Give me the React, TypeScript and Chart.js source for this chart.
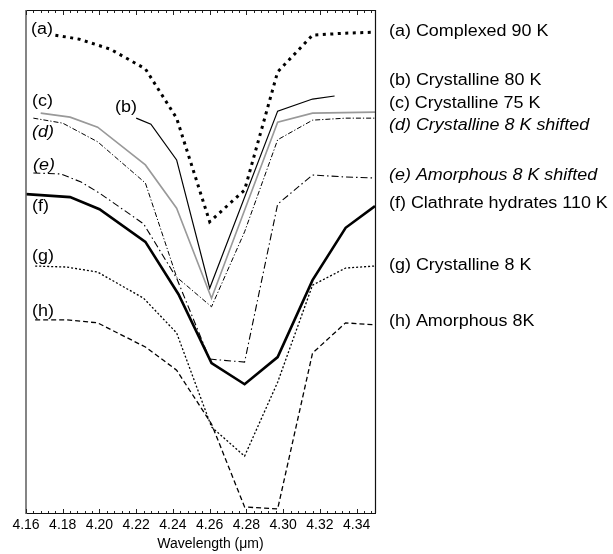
import React, { useEffect, useRef } from 'react';
import { Chart, registerables } from 'chart.js';

Chart.register(...registerables);

// ---- data (wavelength in µm, relative transmittance with offsets, a.u.) ----
const X_TICKS = [4.16, 4.18, 4.2, 4.22, 4.24, 4.26, 4.28, 4.3, 4.32, 4.34];
const X_TITLE = 'Wavelength (μm)';

const wlA = [4.176, 4.189, 4.206, 4.225, 4.242, 4.26, 4.279, 4.297, 4.316, 4.334, 4.35];
const tA = [0.95, 0.942, 0.922, 0.883, 0.785, 0.579, 0.642, 0.877, 0.95, 0.954, 0.956];

const wlB = [4.22, 4.228, 4.242, 4.26, 4.297, 4.316, 4.328];
const tB = [0.785, 0.773, 0.702, 0.447, 0.799, 0.823, 0.829];

const wlC = [4.168, 4.184, 4.199, 4.225, 4.242, 4.261, 4.297, 4.316, 4.35];
const tC = [0.795, 0.787, 0.767, 0.692, 0.606, 0.427, 0.777, 0.795, 0.797];

const wlD = [4.164, 4.18, 4.199, 4.225, 4.242, 4.261, 4.279, 4.297, 4.316, 4.334, 4.35];
const tD = [0.785, 0.775, 0.738, 0.656, 0.469, 0.41, 0.559, 0.742, 0.781, 0.785, 0.785];

const wlE = [4.164, 4.179, 4.19, 4.2, 4.224, 4.242, 4.26, 4.279, 4.297, 4.316, 4.334, 4.35];
const tE = [0.676, 0.674, 0.658, 0.636, 0.575, 0.467, 0.306, 0.3, 0.614, 0.672, 0.668, 0.666];

const wlF = [4.16, 4.184, 4.2, 4.225, 4.243, 4.261, 4.279, 4.297, 4.316, 4.334, 4.35];
const tF = [0.634, 0.628, 0.604, 0.539, 0.435, 0.298, 0.256, 0.31, 0.463, 0.567, 0.61];

const wlG = [4.165, 4.182, 4.199, 4.224, 4.242, 4.261, 4.279, 4.297, 4.316, 4.334, 4.35];
const tG = [0.491, 0.489, 0.479, 0.427, 0.358, 0.171, 0.113, 0.26, 0.453, 0.487, 0.491];

const wlH = [4.165, 4.182, 4.199, 4.225, 4.242, 4.261, 4.279, 4.297, 4.316, 4.334, 4.35];
const tH = [0.384, 0.384, 0.378, 0.33, 0.284, 0.177, 0.012, 0.008, 0.318, 0.378, 0.374];

const SERIES_NAMES = [
  '(a) Complexed 90 K',
  '(b) Crystalline 80 K',
  '(c) Crystalline 75 K',
  '(d) Crystalline 8 K shifted',
  '(e) Amorphous 8 K shifted',
  '(f) Clathrate hydrates 110 K',
  '(g) Crystalline 8 K',
  '(h) Amorphous 8K',
];
const CURVE_TAGS = ['(a)', '(b)', '(c)', '(d)', '(e)', '(f)', '(g)', '(h)'];
const ITALIC = [false, false, false, true, true, false, false, false];

// ---- layout / style (not data) ----
const FONT = '"Liberation Sans", Arial, sans-serif';
const TEXT_SIZE = 16;
const TEXT_STRETCH = 1.12;
const LEGEND_X = 389;
const LEGEND_Y = [32, 81, 104, 126, 176, 204, 266, 322];
// tag anchors in data space [wavelength, value]
const TAG_POS: [number, number][] = [
  [4.1627, 0.962],
  [4.2085, 0.805],
  [4.1633, 0.817],
  [4.1633, 0.757],
  [4.1638, 0.69],
  [4.1633, 0.61],
  [4.1633, 0.509],
  [4.1633, 0.4],
];

const pts = (xs: number[], ys: number[]) => xs.map((x, i) => ({ x, y: ys[i] }));

const frameAndText = {
  id: 'frameAndText',
  afterDraw(chart: any) {
    const { ctx, chartArea } = chart;
    const xs = chart.scales.x;
    const ys = chart.scales.y;
    const { left, right, top, bottom } = chartArea;
    ctx.save();
    // frame
    ctx.strokeStyle = '#111';
    ctx.lineWidth = 1.2;
    ctx.beginPath();
    ctx.moveTo(left, Math.round(top) + 0.5);
    ctx.lineTo(right + 1, Math.round(top) + 0.5);
    ctx.moveTo(Math.round(right) + 0.5, top);
    ctx.lineTo(Math.round(right) + 0.5, bottom);
    ctx.moveTo(left, Math.round(bottom) + 0.5);
    ctx.lineTo(right + 1, Math.round(bottom) + 0.5);
    ctx.stroke();
    ctx.strokeStyle = '#666';
    ctx.lineWidth = 1.6;
    ctx.beginPath();
    ctx.moveTo(left, top);
    ctx.lineTo(left, bottom + 1);
    ctx.stroke();
    // inward ticks (major every 0.02, minor every 0.004)
    ctx.strokeStyle = '#222';
    ctx.lineWidth = 1;
    ctx.beginPath();
    for (let i = 0; i <= 48; i++) {
      const v = 4.16 + i * 0.004;
      if (v > 4.3501) break;
      const px = Math.round(xs.getPixelForValue(v)) + 0.5;
      const len = i % 5 === 0 ? 4 : 2;
      ctx.moveTo(px, Math.round(bottom));
      ctx.lineTo(px, Math.round(bottom) - len);
      ctx.moveTo(px, Math.round(top) + 1);
      ctx.lineTo(px, Math.round(top) + 1 + len);
    }
    ctx.stroke();
    // axis title (sits slightly right of centre, as in the original)
    ctx.fillStyle = '#000';
    ctx.textAlign = 'center';
    ctx.textBaseline = 'middle';
    ctx.font = `14px ${FONT}`;
    ctx.fillText(X_TITLE, (left + right) / 2 + 10, bottom + 31);
    // texts
    ctx.textAlign = 'left';
    const draw = (t: string, x: number, y: number, it: boolean) => {
      ctx.save();
      ctx.translate(x, y);
      ctx.scale(TEXT_STRETCH, 1);
      ctx.font = `${it ? 'italic ' : ''}${TEXT_SIZE}px ${FONT}`;
      ctx.fillText(t, 0, 0);
      ctx.restore();
    };
    SERIES_NAMES.forEach((t, i) => draw(t, LEGEND_X, LEGEND_Y[i], ITALIC[i]));
    CURVE_TAGS.forEach((t, i) => {
      const [wx, wy] = TAG_POS[i];
      draw(t, xs.getPixelForValue(wx), ys.getPixelForValue(wy), ITALIC[i]);
    });
    ctx.restore();
  },
};

export default function App() {
  const ref = useRef<HTMLCanvasElement | null>(null);
  useEffect(() => {
    if (!ref.current) return;
    const common = { pointRadius: 0, fill: false, tension: 0, borderCapStyle: 'butt' as const };
    const chart = new Chart(ref.current, {
      type: 'line',
      data: {
        datasets: [
          { ...common, label: SERIES_NAMES[0], data: pts(wlA, tA), borderColor: '#000', borderWidth: 3, borderDash: [3, 4.5] },
          { ...common, label: SERIES_NAMES[1], data: pts(wlB, tB), borderColor: '#000', borderWidth: 1.2 },
          { ...common, label: SERIES_NAMES[2], data: pts(wlC, tC), borderColor: '#999', borderWidth: 1.6 },
          { ...common, label: SERIES_NAMES[3], data: pts(wlD, tD), borderColor: '#000', borderWidth: 1, borderDash: [5, 2, 1.2, 2] },
          { ...common, label: SERIES_NAMES[4], data: pts(wlE, tE), borderColor: '#000', borderWidth: 1.1, borderDash: [7, 3, 1.5, 3] },
          { ...common, label: SERIES_NAMES[5], data: pts(wlF, tF), borderColor: '#000', borderWidth: 2.6 },
          { ...common, label: SERIES_NAMES[6], data: pts(wlG, tG), borderColor: '#000', borderWidth: 1.3, borderDash: [2, 2] },
          { ...common, label: SERIES_NAMES[7], data: pts(wlH, tH), borderColor: '#000', borderWidth: 1.3, borderDash: [5, 3] },
        ],
      },
      options: {
        responsive: false,
        animation: false,
        layout: { padding: { left: 26, right: 238, top: 10, bottom: 17 } },
        plugins: { legend: { display: false }, tooltip: { enabled: false } },
        scales: {
          x: {
            type: 'linear',
            min: 4.16,
            max: 4.35,
            afterBuildTicks: (scale: any) => {
              scale.ticks = X_TICKS.map((v) => ({ value: v }));
            },
            ticks: {
              autoSkip: false,
              maxRotation: 0,
              padding: 5,
              color: '#000',
              font: { family: FONT, size: 14, lineHeight: 1 },
              callback: (v: any) => Number(v).toFixed(2),
            },
            grid: { display: false, drawTicks: false },
            border: { display: false },
            title: { display: false, text: X_TITLE },
          },
          y: { type: 'linear', min: 0, max: 1, display: false },
        },
      },
      plugins: [frameAndText],
    });
    return () => chart.destroy();
  }, []);
  return (
    <div style={{ position: 'fixed', left: 0, top: 0, width: 613, height: 554, background: '#fff' }}>
      <canvas ref={ref} width={613} height={554} style={{ display: 'block' }} />
    </div>
  );
}
